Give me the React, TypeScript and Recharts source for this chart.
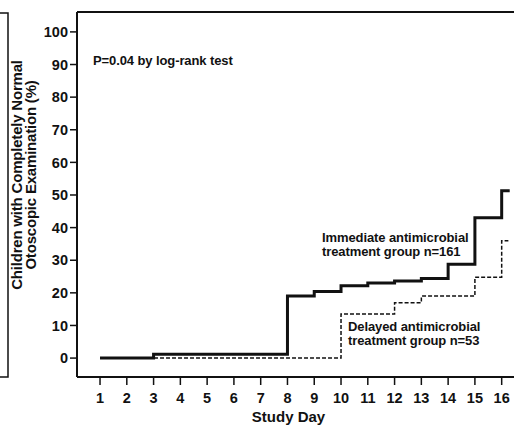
import React from "react";
import {
  LineChart,
  Line,
  XAxis,
  YAxis,
  ReferenceLine,
  Customized,
} from "recharts";

// Study day of each step and the % normal after it
const immediateDays = [1, 3, 8, 9, 10, 11, 12, 13, 14, 15, 16, 16.3];
const immediatePct = [0, 1.2, 19, 20.4, 22.2, 23, 23.6, 24.4, 28.8, 43, 51.3, 51.3];

const delayedDays = [1, 3, 10, 12, 13, 15, 16, 16.25];
const delayedPct = [0, 0, 13.5, 17, 19, 24.8, 36, 36];

const dayTicks = [1, 2, 3, 4, 5, 6, 7, 8, 9, 10, 11, 12, 13, 14, 15, 16];
const pctTicks = [0, 10, 20, 30, 40, 50, 60, 70, 80, 90, 100];

const immediateData = immediateDays.map((day, i) => ({ day, pct: immediatePct[i] }));
const delayedData = delayedDays.map((day, i) => ({ day, pct: delayedPct[i] }));

const FONT = '"Liberation Sans", Arial, Helvetica, sans-serif';
const Y_TOP = 106.1;

function Annotations() {
  const txt = { fontFamily: FONT, fontWeight: 700, fontSize: 13, fill: "#111", letterSpacing: -0.1 };
  return (
    <g>
      {/* edge of the neighbouring panel, cropped */}
      <path d="M0,13 H8 V377 H0" fill="none" stroke="#111" strokeWidth={1.5} />
      <g transform="translate(0,175) rotate(-90)" style={{ ...txt, fontSize: 15, letterSpacing: -0.2 }}>
        <text x={0} y={22} textAnchor="middle">Children with Completely Normal</text>
        <text x={0} y={36} textAnchor="middle">Otoscopic Examination (%)</text>
      </g>
      <text x={93} y={65} style={txt}>P=0.04 by log-rank test</text>
      <text x={322} y={242} style={txt}>Immediate antimicrobial</text>
      <text x={322} y={256} style={txt}>treatment group n=161</text>
      <text x={348} y={331} style={txt}>Delayed antimicrobial</text>
      <text x={348} y={345} style={txt}>treatment group n=53</text>
    </g>
  );
}

export default function App() {
  const tickStyle = { fontFamily: FONT, fontWeight: 700, fontSize: 14.5, fill: "#111" };
  return (
    <div style={{ position: "absolute", left: 0, top: 0, width: 514, height: 426, background: "#fff" }}>
      <LineChart width={514} height={426} margin={{ top: 12, right: 0, bottom: 0, left: 0 }}>
        <XAxis
          type="number"
          dataKey="day"
          domain={[0.14, 16.46]}
          ticks={dayTicks}
          allowDataOverflow
          height={49}
          tickSize={8}
          tickMargin={8}
          tick={tickStyle}
          axisLine={{ stroke: "#111", strokeWidth: 2 }}
          tickLine={{ stroke: "#111", strokeWidth: 1.5 }}
          label={{
            value: "Study Day",
            position: "insideBottom",
            offset: 4,
            dx: -7,
            style: { fontFamily: FONT, fontWeight: 700, fontSize: 15, fill: "#111" },
          }}
        />
        <YAxis
          type="number"
          domain={[-5.8, Y_TOP]}
          ticks={pctTicks}
          allowDataOverflow
          width={77}
          tickSize={7}
          tickMargin={2}
          tick={tickStyle}
          axisLine={{ stroke: "#111", strokeWidth: 2 }}
          tickLine={{ stroke: "#111", strokeWidth: 1.5 }}
        />
        <ReferenceLine y={Y_TOP} stroke="#111" strokeWidth={2} />
        <Line
          data={delayedData}
          dataKey="pct"
          type="stepAfter"
          stroke="#111"
          strokeWidth={1.5}
          strokeDasharray="4 2"
          dot={false}
          activeDot={false}
          isAnimationActive={false}
        />
        <Line
          data={immediateData}
          dataKey="pct"
          type="stepAfter"
          stroke="#111"
          strokeWidth={3}
          dot={false}
          activeDot={false}
          isAnimationActive={false}
        />
        <Customized component={Annotations} />
      </LineChart>
    </div>
  );
}
